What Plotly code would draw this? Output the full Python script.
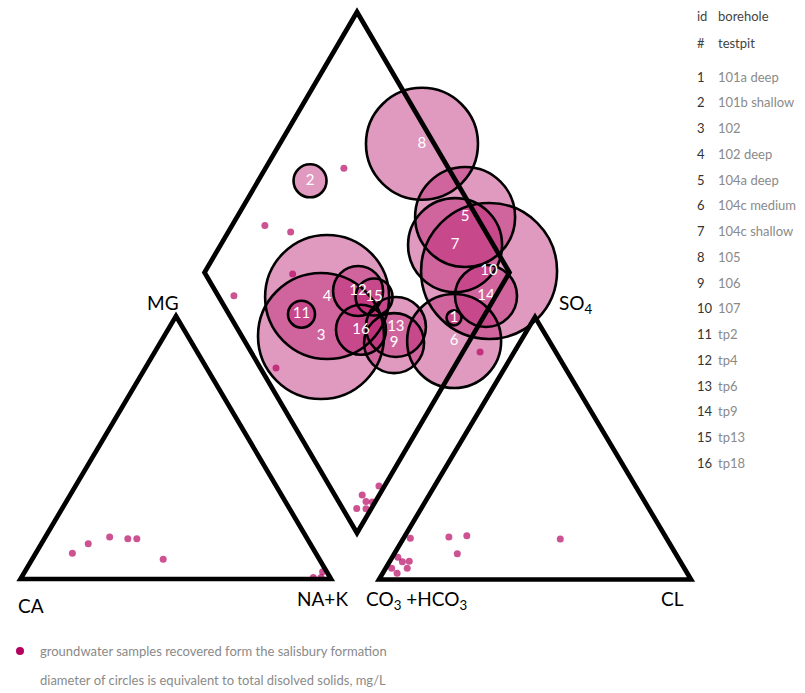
import plotly.graph_objects as go

# ---------------------------------------------------------------------------
# Sampling locations (boreholes and test pits) - shown as circles in the
# central diamond, diameter proportional to total dissolved solids.
# ---------------------------------------------------------------------------
site_ids = [str(i) for i in range(1, 17)]
site_names = ["101a deep", "101b shallow", "102", "102 deep", "104a deep",
              "104c medium", "104c shallow", "105", "106", "107",
              "tp2", "tp4", "tp6", "tp9", "tp13", "tp18"]
# diamond field: cations Ca+Mg (% meq/L) and anions SO4+Cl (% meq/L)
site_camg = [9.5, 83.0, 49.6, 55.1, 25.2, 5.0, 23.1, 53.4,
             24.3, 7.0, 60.2, 46.1, 26.8, 3.2, 39.7, 37.7]
site_so4cl = [73.1, 52.2, 26.0, 35.5, 96.1, 68.7, 87.4, 96.0,
              48.6, 93.6, 23.8, 46.8, 52.3, 87.8, 50.9, 40.3]
# total dissolved solids, mg/L
site_tds = [600, 1320, 5040, 4960, 4000, 3760, 3760, 4480,
            2400, 5440, 1080, 2000, 2400, 2480, 1480, 2000]

# ---------------------------------------------------------------------------
# Groundwater samples recovered from the Salisbury formation (small dots)
# ---------------------------------------------------------------------------
# cation triangle (% meq/L)
gw_ca = [78.4, 71.5, 63.3, 57.8, 54.9, 50.3, 1.3, 5.4, 2.9]
gw_mg = [9.8, 13.4, 16.0, 15.3, 15.3, 7.5, 2.8, 0.6, 0.6]
gw_nak = [11.8, 15.1, 20.7, 26.9, 29.8, 42.2, 95.9, 94.0, 96.5]
# anion triangle (% meq/L)
gw_hco3 = [82.1, 69.5, 63.5, 70.0, 34.2, 89.8, 89.1, 86.8, 93.8, 88.8, 93.0]
gw_so4 = [15.7, 16.2, 16.7, 9.8, 15.4, 8.5, 6.8, 7.0, 4.3, 4.3, 2.4]
gw_cl = [2.2, 14.3, 19.8, 20.2, 50.4, 1.8, 4.1, 6.2, 1.9, 6.9, 4.6]
# diamond field
gw_camg = [74.3, 89.2, 79.5, 70.8, 85.9, 58.2, -5.6, 1.8, 5.6, 3.1, 0.9, 4.8, 1.7]
gw_so4cl = [65.7, 28.8, 36.0, 28.6, 5.2, 5.1, 75.1, 16.2, 9.0, 9.0, 11.0, 4.6, 7.6]

# ---------------------------------------------------------------------------
# Piper diagram geometry (canvas units)
# ---------------------------------------------------------------------------
W, H = 805, 693
CAT_CA, CAT_MG, CAT_NAK = (20.5, 579.0), (176.0, 316.0), (331.0, 579.0)
AN_HCO3, AN_SO4, AN_CL = (379.0, 579.5), (535.0, 317.0), (691.0, 579.5)
DIA_B, DIA_L, DIA_R = (357.0, 533.0), (204.5, 272.5), (509.5, 272.5)
DIA_T = (DIA_L[0] + DIA_R[0] - DIA_B[0], DIA_L[1] + DIA_R[1] - DIA_B[1])

PX_PER_MGL = 0.025          # circle diameter per mg/L of TDS
FONT = "Lato"
CIRCLE_FILL = "rgba(190,40,120,0.47)"
DOT_COLOR = "rgb(180,0,95)"


def ternary(a, b, c, va, vb, vc):
    xs, ys = [], []
    for p, q, r in zip(a, b, c):
        s = p + q + r
        xs.append((p * va[0] + q * vb[0] + r * vc[0]) / s)
        ys.append((p * va[1] + q * vb[1] + r * vc[1]) / s)
    return xs, ys


def diamond(camg, so4cl):
    xs, ys = [], []
    for m, s in zip(camg, so4cl):
        m, s = m / 100.0, s / 100.0
        xs.append(DIA_B[0] + m * (DIA_L[0] - DIA_B[0]) + s * (DIA_R[0] - DIA_B[0]))
        ys.append(DIA_B[1] + m * (DIA_L[1] - DIA_B[1]) + s * (DIA_R[1] - DIA_B[1]))
    return xs, ys


site_x, site_y = diamond(site_camg, site_so4cl)
site_size = [t * PX_PER_MGL for t in site_tds]

cx, cy = ternary(gw_ca, gw_mg, gw_nak, CAT_CA, CAT_MG, CAT_NAK)
ax_, ay_ = ternary(gw_hco3, gw_so4, gw_cl, AN_HCO3, AN_SO4, AN_CL)
dx_, dy_ = diamond(gw_camg, gw_so4cl)

fig = go.Figure()

# TDS circles: translucent fills first, then crisp outlines on top
fig.add_trace(go.Scatter(
    x=site_x, y=site_y, mode="markers", hoverinfo="skip",
    marker=dict(size=site_size, sizemode="diameter", color=CIRCLE_FILL,
                opacity=1, line=dict(width=0)),
))
fig.add_trace(go.Scatter(
    x=site_x, y=site_y, mode="markers", hoverinfo="skip",
    marker=dict(size=site_size, sizemode="diameter", symbol="circle-open",
                color="black", opacity=1, line=dict(width=2.6, color="black")),
))

# groundwater sample dots in all three fields
fig.add_trace(go.Scatter(
    x=cx + ax_ + dx_, y=cy + ay_ + dy_, mode="markers", hoverinfo="skip",
    marker=dict(size=7, color=DOT_COLOR, opacity=0.68, line=dict(width=0)),
))

# site numbers
fig.add_trace(go.Scatter(
    x=site_x, y=site_y, mode="text", text=site_ids, hoverinfo="skip",
    textposition="middle center",
    textfont=dict(family=FONT, size=15, color="white"),
))


def poly_path(*pts):
    return "M " + " L ".join(f"{x},{y}" for x, y in pts) + " Z"


frame = [
    poly_path(CAT_CA, CAT_MG, CAT_NAK),
    poly_path(AN_HCO3, AN_SO4, AN_CL),
    poly_path(DIA_B, DIA_L, DIA_T, DIA_R),
]
shapes = [dict(type="path", path=p, xref="x", yref="y", layer="above",
               line=dict(color="black", width=4.7), fillcolor="rgba(0,0,0,0)")
          for p in frame]
# legend key dot
shapes.append(dict(type="circle", xref="x", yref="y", x0=16, x1=24, y0=647, y1=655,
                   fillcolor=DOT_COLOR, line=dict(width=0), layer="above"))

annotations = []


def label(text, x, y, size=18, color="black", xanchor="center"):
    annotations.append(dict(text=text, x=x, y=y, xref="x", yref="y", showarrow=False,
                            xanchor=xanchor, yanchor="middle",
                            font=dict(family=FONT, size=size, color=color)))


# corner labels
label("CA", 30.5, 605, size=19)
label("NA+K", 322, 598, size=19)
label("CO<sub>3</sub> +HCO<sub>3</sub>", 364, 600, size=19, xanchor="left")
label("CL", 672, 598, size=19)
label("MG", 162.5, 302, size=19)
label("SO<sub>4</sub>", 557, 304, size=19, xanchor="left")

# site key on the right
label("id", 695, 16, size=13, color="#444444", xanchor="left")
label("borehole", 716, 16, size=13, color="#444444", xanchor="left")
label("#", 695, 42.5, size=13, color="#444444", xanchor="left")
label("testpit", 716, 42.5, size=13, color="#444444", xanchor="left")
for i, (sid, name) in enumerate(zip(site_ids, site_names)):
    yy = 76.7 + 25.75 * i
    label(sid, 695, yy, size=13, color="#333333", xanchor="left")
    label(name, 716, yy, size=13, color="#8a8a8a", xanchor="left")

# notes at the bottom
label("groundwater samples recovered form the salisbury formation", 38, 651,
      size=13, color="#8a8a8a", xanchor="left")
label("diameter of circles is equivalent to total disolved solids, mg/L", 38, 680,
      size=13, color="#8a8a8a", xanchor="left")

fig.update_layout(
    width=W, height=H, autosize=False,
    margin=dict(l=0, r=0, t=0, b=0),
    paper_bgcolor="white", plot_bgcolor="white",
    showlegend=False,
    shapes=shapes, annotations=annotations,
    xaxis=dict(range=[0, W], visible=False, fixedrange=True),
    yaxis=dict(range=[H, 0], visible=False, fixedrange=True),
)

fig.write_html("out.html")
